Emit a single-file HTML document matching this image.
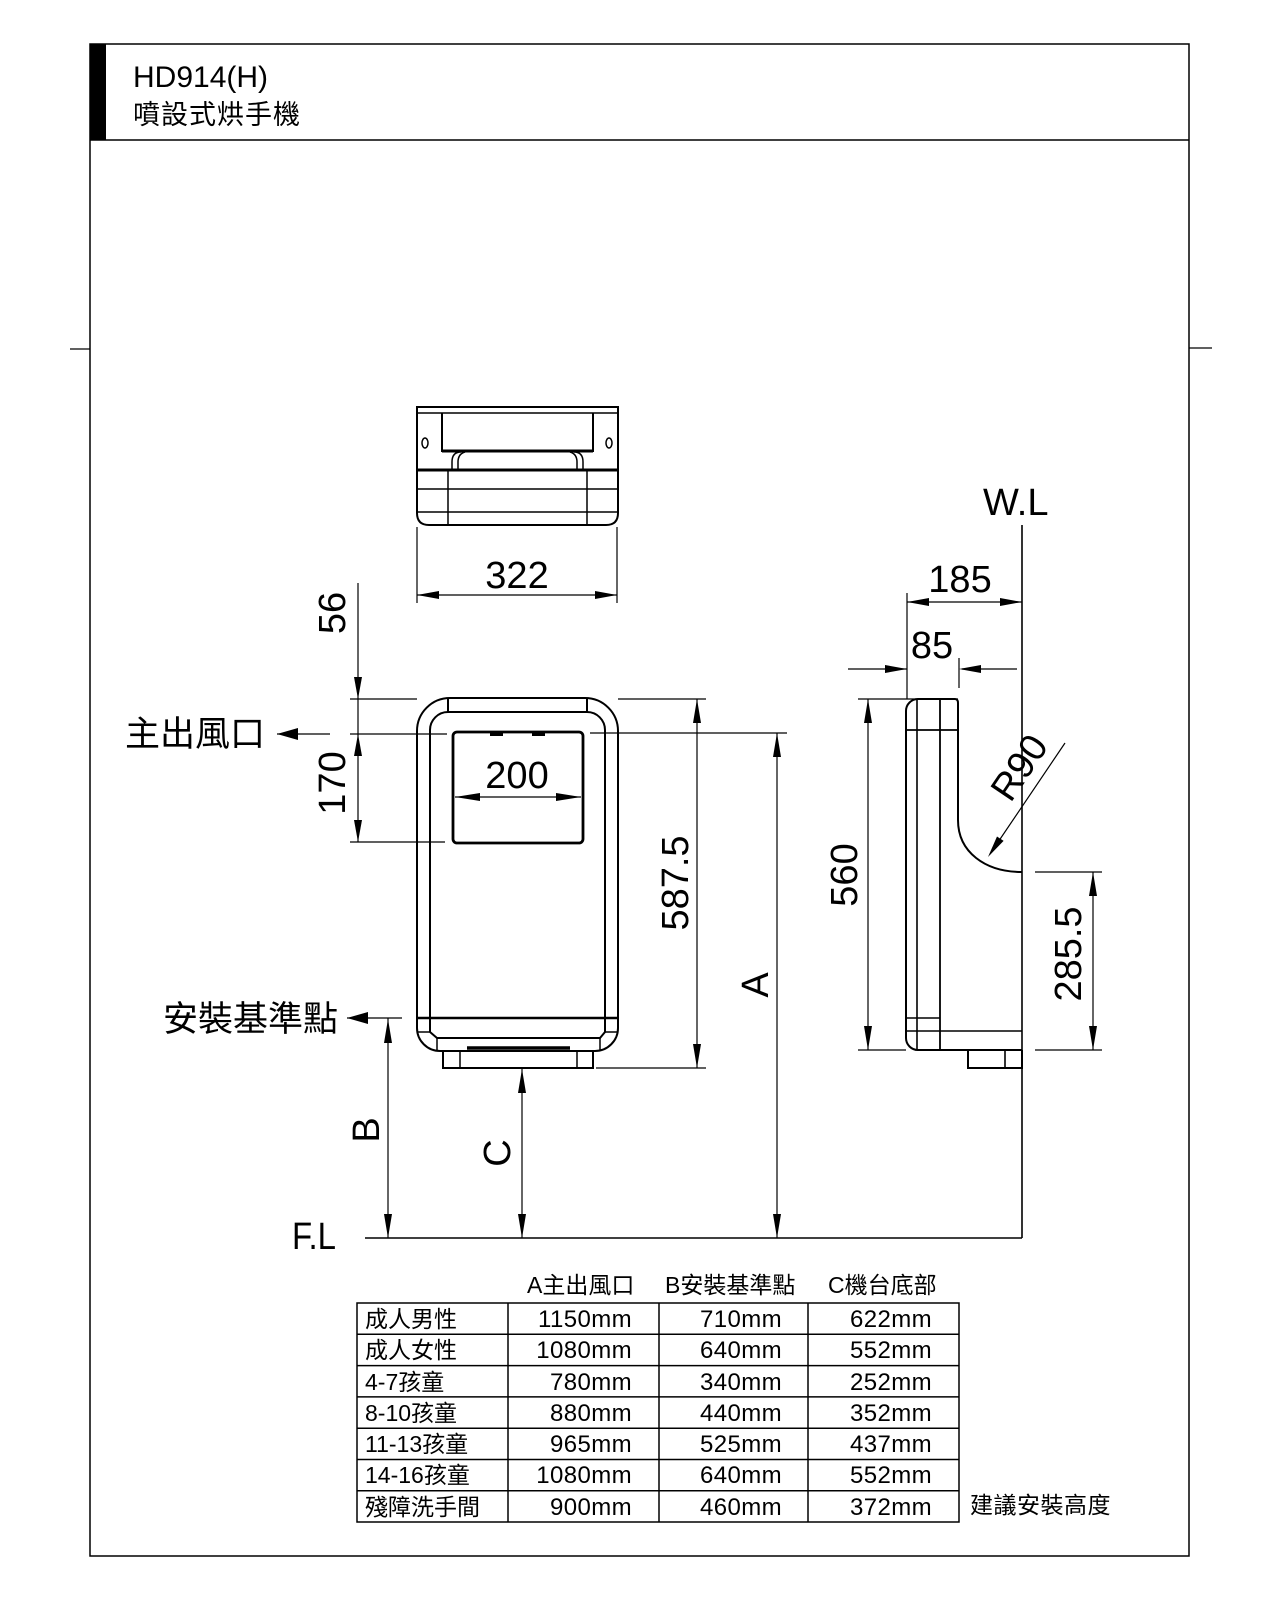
<!DOCTYPE html>
<html>
<head>
<meta charset="utf-8">
<style>
  html,body{margin:0;padding:0;background:#fff;}
  svg{display:block;}
  .t{font-family:"Liberation Sans","Noto Sans CJK TC",sans-serif;fill:#000;}
  .cjk{font-family:"Liberation Sans","Noto Sans CJK TC",sans-serif;fill:#000;}
</style>
</head>
<body>
<svg width="1280" height="1600" viewBox="0 0 1280 1600" xmlns="http://www.w3.org/2000/svg">
  <rect x="0" y="0" width="1280" height="1600" fill="#fff"/>
  <!-- frame -->
  <rect x="90" y="44" width="1099" height="1512" fill="none" stroke="#000" stroke-width="1.5"/>
  <rect x="90" y="44" width="16" height="96" fill="#000"/>
  <line x1="90" y1="140" x2="1189" y2="140" stroke="#000" stroke-width="1.5"/>
  <line x1="70" y1="349" x2="90" y2="349" stroke="#000" stroke-width="1.3"/>
  <line x1="1189" y1="348" x2="1212" y2="348" stroke="#000" stroke-width="1.3"/>
  <text class="t" x="133" y="87" font-size="30">HD914(H)</text>
  <text class="cjk" x="133" y="124" font-size="27" letter-spacing="1">噴設式烘手機</text>

  <!-- ===== TOP VIEW ===== -->
  <g fill="none" stroke="#000" stroke-width="2">
    <path d="M417 407 H618 V513 Q618 525 606 525 H429 Q417 525 417 513 Z"/>
    <line x1="417" y1="413" x2="618" y2="413" stroke-width="1.5"/>
    <line x1="417" y1="470" x2="618" y2="470" stroke-width="3"/>
    <line x1="417" y1="489" x2="618" y2="489" stroke-width="1.5"/>
    <line x1="417" y1="512" x2="618" y2="512" stroke-width="1.5"/>
    <line x1="448" y1="470" x2="448" y2="525" stroke-width="1.5"/>
    <line x1="587" y1="470" x2="587" y2="525" stroke-width="1.5"/>
    <path d="M442 413 V451 H593 V413" stroke-width="2"/>
    <line x1="442" y1="451" x2="593" y2="451" stroke-width="3"/>
    <path d="M461 452 Q452 452 452 462 V470" stroke-width="1.5"/>
    <path d="M465 452 Q458 454 458 462 V470" stroke-width="1.5"/>
    <path d="M574 452 Q583 452 583 462 V470" stroke-width="1.5"/>
    <path d="M570 452 Q577 454 577 462 V470" stroke-width="1.5"/>
    <ellipse cx="425" cy="443" rx="3" ry="5" stroke-width="1.5"/>
    <ellipse cx="609" cy="443" rx="3" ry="5" stroke-width="1.5"/>
  </g>
  <!-- 322 dim -->
  <g stroke="#000" stroke-width="1.2">
    <line x1="417" y1="527" x2="417" y2="603"/>
    <line x1="617" y1="527" x2="617" y2="603"/>
    <line x1="417" y1="595" x2="617" y2="595"/>
  </g>
  <polygon points="417,595 439,591 439,599" fill="#000"/>
  <polygon points="617,595 595,591 595,599" fill="#000"/>
  <text class="t" x="517" y="588" font-size="38" text-anchor="middle">322</text>

  <!-- ===== FRONT VIEW ===== -->
  <g fill="none" stroke="#000" stroke-width="2">
    <path d="M417 731 A33 33 0 0 1 450 698 H585 A33 33 0 0 1 618 731 V1028 A23 23 0 0 1 595 1051 H440 A23 23 0 0 1 417 1028 Z"/>
    <path d="M430 1032 V730 A18 18 0 0 1 448 712 H587 A18 18 0 0 1 605 730 V1032 L600 1038 H437 L430 1032"/>
    <line x1="448" y1="698" x2="448" y2="712"/>
    <line x1="587" y1="698" x2="587" y2="712"/>
    <line x1="417" y1="1018" x2="618" y2="1018" stroke-width="2.6"/>
    <line x1="417" y1="1032" x2="430" y2="1032" stroke-width="1.5"/>
    <line x1="605" y1="1032" x2="618" y2="1032" stroke-width="1.5"/>
    <line x1="437" y1="1038" x2="437" y2="1051" stroke-width="1.5"/>
    <line x1="600" y1="1038" x2="600" y2="1051" stroke-width="1.5"/>
    <line x1="467" y1="1048" x2="570" y2="1048" stroke-width="3.5"/>
    <path d="M443 1051 V1068 H593 V1051"/>
    <line x1="460" y1="1051" x2="460" y2="1068" stroke-width="1.5"/>
    <line x1="577" y1="1051" x2="577" y2="1068" stroke-width="1.5"/>
    <rect x="453" y="732" width="130" height="111" rx="4" stroke-width="2.8"/>
  </g>
  <rect x="490" y="732" width="13" height="4" fill="#000"/>
  <rect x="532" y="732" width="13" height="4" fill="#000"/>
  <!-- 200 dim -->
  <line x1="455" y1="797" x2="581" y2="797" stroke="#000" stroke-width="1.2"/>
  <polygon points="455,797 480,793 480,801" fill="#000"/>
  <polygon points="581,797 556,793 556,801" fill="#000"/>
  <text class="t" x="517" y="788" font-size="38" text-anchor="middle">200</text>

  <!-- extension lines front view -->
  <g stroke="#000" stroke-width="1.2">
    <line x1="350" y1="699" x2="417" y2="699"/>
    <line x1="618" y1="699" x2="706" y2="699"/>
    <line x1="350" y1="734" x2="447" y2="734"/>
    <line x1="590" y1="733" x2="787" y2="733"/>
    <line x1="350" y1="842" x2="445" y2="842"/>
    <line x1="596" y1="1068" x2="706" y2="1068"/>
    <!-- 56/170 -->
    <line x1="358" y1="583" x2="358" y2="842"/>
    <!-- main outlet arrow line -->
    <line x1="277" y1="734" x2="330" y2="734"/>
    <!-- install ref -->
    <line x1="347" y1="1018" x2="402" y2="1018"/>
    <!-- B -->
    <line x1="388" y1="1018" x2="388" y2="1238"/>
    <!-- C -->
    <line x1="522" y1="1068" x2="522" y2="1238"/>
    <!-- 587.5 -->
    <line x1="697" y1="699" x2="697" y2="1068"/>
    <!-- A -->
    <line x1="777" y1="733" x2="777" y2="1238"/>
    <!-- F.L -->
    <line x1="365" y1="1238" x2="1022" y2="1238" stroke-width="1.5"/>
  </g>
  <g fill="#000">
    <polygon points="358,699 354,677 362,677"/>
    <polygon points="358,734 354,756 362,756"/>
    <polygon points="358,842 354,820 362,820"/>
    <polygon points="277,734 298,728 298,740"/>
    <polygon points="347,1018 368,1012 368,1024"/>
    <polygon points="388,1019 384,1043 392,1043"/>
    <polygon points="388,1238 384,1214 392,1214"/>
    <polygon points="522,1069 518,1093 526,1093"/>
    <polygon points="522,1238 518,1214 526,1214"/>
    <polygon points="697,699 693,723 701,723"/>
    <polygon points="697,1068 693,1044 701,1044"/>
    <polygon points="777,733 773,757 781,757"/>
    <polygon points="777,1238 773,1214 781,1214"/>
  </g>
  <text class="t" font-size="38" text-anchor="middle" dominant-baseline="central" transform="translate(333,613) rotate(-90)">56</text>
  <text class="t" font-size="38" text-anchor="middle" dominant-baseline="central" transform="translate(333,783) rotate(-90)">170</text>
  <text class="t" font-size="38" text-anchor="middle" dominant-baseline="central" transform="translate(367,1130) rotate(-90)">B</text>
  <text class="t" font-size="38" text-anchor="middle" dominant-baseline="central" transform="translate(498,1153) rotate(-90)">C</text>
  <text class="t" font-size="38" text-anchor="middle" dominant-baseline="central" transform="translate(676,883) rotate(-90)">587.5</text>
  <text class="t" font-size="38" text-anchor="middle" dominant-baseline="central" transform="translate(756,985) rotate(-90)">A</text>
  <text class="cjk" x="125" y="746" font-size="35">主出風口</text>
  <text class="cjk" x="163" y="1031" font-size="35">安裝基準點</text>
  <text class="t" x="292" y="1249" font-size="38" textLength="44" lengthAdjust="spacingAndGlyphs">F.L</text>

  <!-- ===== SIDE VIEW ===== -->
  <g stroke="#000" stroke-width="1.2">
    <line x1="1022" y1="525" x2="1022" y2="1238" stroke-width="1.6"/>
    <line x1="907" y1="593" x2="907" y2="699"/>
    <line x1="907" y1="602" x2="1022" y2="602"/>
    <line x1="848" y1="669" x2="907" y2="669"/>
    <line x1="962" y1="669" x2="1017" y2="669"/>
    <line x1="959" y1="658" x2="959" y2="688"/>
    <line x1="858" y1="699" x2="958" y2="699"/>
    <line x1="858" y1="1050" x2="906" y2="1050"/>
    <line x1="868" y1="699" x2="868" y2="1050"/>
    <line x1="1035" y1="872" x2="1102" y2="872"/>
    <line x1="1035" y1="1050" x2="1102" y2="1050"/>
    <line x1="1093" y1="872" x2="1093" y2="1050"/>
    <line x1="1065" y1="743" x2="990" y2="854"/>
  </g>
  <g fill="#000">
    <polygon points="907,602 929,598 929,606"/>
    <polygon points="1022,602 1000,598 1000,606"/>
    <polygon points="907,669 885,665 885,673"/>
    <polygon points="959,669 981,665 981,673"/>
    <polygon points="868,699 864,723 872,723"/>
    <polygon points="868,1050 864,1026 872,1026"/>
    <polygon points="1093,872 1089,896 1097,896"/>
    <polygon points="1093,1050 1089,1026 1097,1026"/>
    <polygon points="988,857 1003.6,840.9 997,836.5"/>
  </g>
  <g fill="none" stroke="#000" stroke-width="2">
    <path d="M918 699 H955 Q958 699 958 703 V820 C958 852 985 872 1022 872"/>
    <path d="M1022 1050 H918 A12 12 0 0 1 906 1038 V711 A12 12 0 0 1 918 699"/>
    <line x1="917" y1="699" x2="917" y2="1050" stroke-width="1.6"/>
    <line x1="940" y1="699" x2="940" y2="1050" stroke-width="1.8"/>
    <line x1="906" y1="730" x2="958" y2="730" stroke-width="1.8"/>
    <line x1="906" y1="1018" x2="940" y2="1018" stroke-width="1.6"/>
    <line x1="906" y1="1031" x2="1022" y2="1031" stroke-width="1.6"/>
    <path d="M968 1050 V1068 H1022 V1050"/>
    <line x1="1005" y1="1050" x2="1005" y2="1068" stroke-width="1.6"/>
  </g>
  <text class="t" x="983" y="515" font-size="38">W.L</text>
  <text class="t" x="960" y="592" font-size="38" text-anchor="middle">185</text>
  <text class="t" x="932" y="658" font-size="38" text-anchor="middle">85</text>
  <text class="t" font-size="38" text-anchor="middle" dominant-baseline="central" transform="translate(845,875) rotate(-90)">560</text>
  <text class="t" font-size="38" text-anchor="middle" dominant-baseline="central" transform="translate(1069,954) rotate(-90)">285.5</text>
  <text class="t" font-size="38" text-anchor="middle" dominant-baseline="central" transform="translate(1020,768) rotate(-56)">R90</text>

  <!-- ===== TABLE ===== -->
  <g stroke="#000" stroke-width="1.5" fill="none">
    <rect x="357" y="1303" width="602" height="219"/>
    <line x1="508" y1="1303" x2="508" y2="1522"/>
    <line x1="659" y1="1303" x2="659" y2="1522"/>
    <line x1="808" y1="1303" x2="808" y2="1522"/>
    <line x1="357" y1="1334.3" x2="959" y2="1334.3"/>
    <line x1="357" y1="1365.6" x2="959" y2="1365.6"/>
    <line x1="357" y1="1396.9" x2="959" y2="1396.9"/>
    <line x1="357" y1="1428.2" x2="959" y2="1428.2"/>
    <line x1="357" y1="1459.5" x2="959" y2="1459.5"/>
    <line x1="357" y1="1490.8" x2="959" y2="1490.8"/>
  </g>
  <g class="cjk" font-size="23">
    <text x="527" y="1293">A主出風口</text>
    <text x="665" y="1293">B安裝基準點</text>
    <text x="828" y="1293">C機台底部</text>
    <text x="365" y="1327">成人男性</text>
    <text x="365" y="1358">成人女性</text>
    <text x="365" y="1390">4-7孩童</text>
    <text x="365" y="1421">8-10孩童</text>
    <text x="365" y="1452">11-13孩童</text>
    <text x="365" y="1483">14-16孩童</text>
    <text x="365" y="1515">殘障洗手間</text>
    <text x="970" y="1513" letter-spacing="0.5">建議安裝高度</text>
  </g>
  <g class="t" font-size="24" text-anchor="end" letter-spacing="0.4">
    <text x="632" y="1327">1150mm</text>
    <text x="782" y="1327">710mm</text>
    <text x="932" y="1327">622mm</text>
    <text x="632" y="1358">1080mm</text>
    <text x="782" y="1358">640mm</text>
    <text x="932" y="1358">552mm</text>
    <text x="632" y="1390">780mm</text>
    <text x="782" y="1390">340mm</text>
    <text x="932" y="1390">252mm</text>
    <text x="632" y="1421">880mm</text>
    <text x="782" y="1421">440mm</text>
    <text x="932" y="1421">352mm</text>
    <text x="632" y="1452">965mm</text>
    <text x="782" y="1452">525mm</text>
    <text x="932" y="1452">437mm</text>
    <text x="632" y="1483">1080mm</text>
    <text x="782" y="1483">640mm</text>
    <text x="932" y="1483">552mm</text>
    <text x="632" y="1515">900mm</text>
    <text x="782" y="1515">460mm</text>
    <text x="932" y="1515">372mm</text>
  </g>
</svg>
</body>
</html>
